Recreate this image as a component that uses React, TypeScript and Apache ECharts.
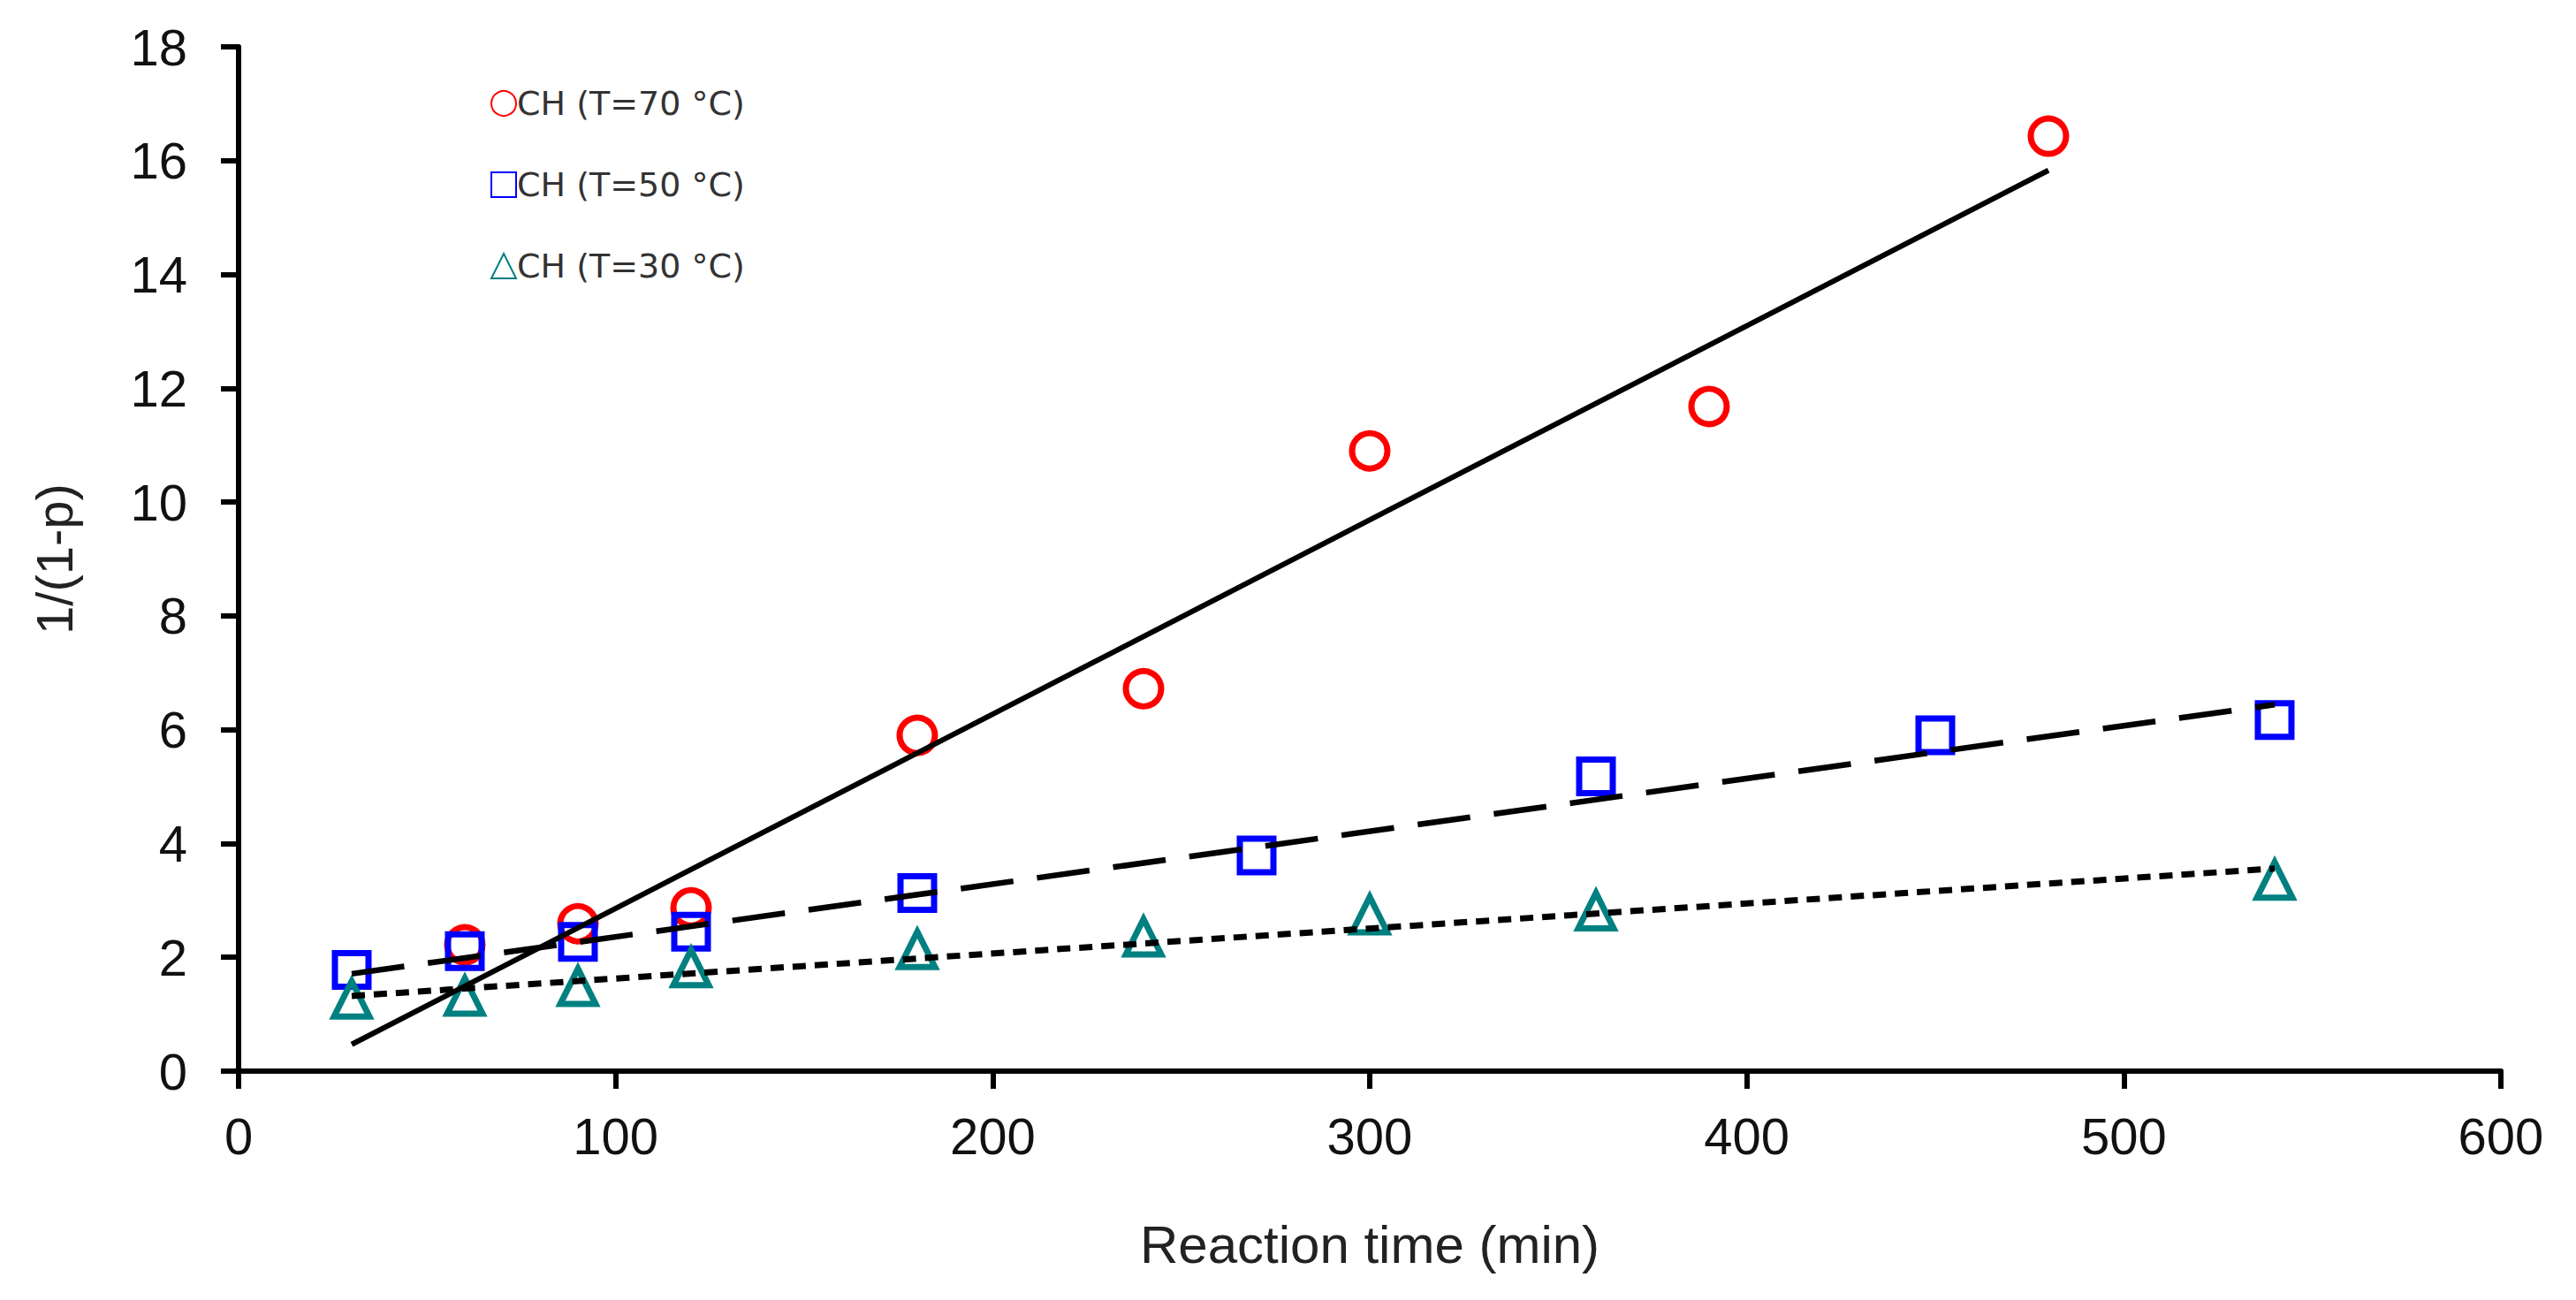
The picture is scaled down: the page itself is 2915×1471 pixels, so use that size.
import React, { useEffect, useRef } from "react";
import * as echarts from "echarts";

const seriesNames = ["CH (T=70 °C)", "CH (T=50 °C)", "CH (T=30 °C)"];
const t70: number[][] = [[60, 2.22], [90, 2.59], [120, 2.87], [180, 5.9], [240, 6.72], [300, 10.9], [390, 11.68], [480, 16.43]];
const t50: number[][] = [[30, 1.78], [60, 2.11], [90, 2.27], [120, 2.45], [180, 3.13], [270, 3.79], [360, 5.18], [450, 5.9], [540, 6.17]];
const t30: number[][] = [[30, 1.27], [60, 1.32], [90, 1.49], [120, 1.82], [180, 2.14], [240, 2.36], [300, 2.75], [360, 2.82], [540, 3.36]];
const fit70: number[][] = [[30, 0.47], [480, 15.83]];
const fit50: number[][] = [[30, 1.71], [540, 6.44]];
const fit30: number[][] = [[30, 1.32], [540, 3.56]];
const xTicks = { min: 0, max: 600, interval: 100 };
const yTicks = { min: 0, max: 18, interval: 2 };
const colors = ["#ff0000", "#0000ff", "#008080"];

export default function App() {
  const ref = useRef<HTMLDivElement>(null);
  useEffect(() => {
    const chart = echarts.init(ref.current!, null, { renderer: "svg" });
    const font = "Liberation Sans, Arial, sans-serif";
    const axisCommon = {
      axisLine: { show: true, onZero: false, lineStyle: { color: "#000", width: 6 } },
      axisTick: { show: true, inside: false, length: 20, lineStyle: { color: "#000", width: 6 } },
      splitLine: { show: false },
      nameTextStyle: { fontFamily: font, fontSize: 58, color: "#222" },
    };
    const marker = (c: string, w: number) => ({
      color: "rgba(255,255,255,0)", borderColor: c, borderWidth: w, opacity: 1,
    });
    chart.setOption({
      animation: false,
      backgroundColor: "#fff",
      grid: { left: 270, right: 85, top: 53, bottom: 259 },
      legend: {
        orient: "vertical",
        left: 550,
        top: 93,
        itemWidth: 28,
        itemHeight: 28,
        itemGap: 54,
        data: seriesNames,
        textStyle: { fontFamily: "DejaVu Sans, sans-serif", fontSize: 38, color: "#333", padding: [0, 0, 0, -4] },
      },
      xAxis: {
        type: "value",
        ...xTicks,
        ...axisCommon,
        name: "Reaction time (min)",
        nameLocation: "middle",
        nameGap: 166,
        nameTextStyle: { fontFamily: font, fontSize: 60, color: "#222" },
        axisLabel: { fontFamily: font, fontSize: 58, color: "#111", margin: 44 },
      },
      yAxis: {
        type: "value",
        ...yTicks,
        ...axisCommon,
        name: "1/(1-p)",
        nameLocation: "middle",
        nameGap: 180,
        axisLabel: { fontFamily: font, fontSize: 58, color: "#111", margin: 58 },
      },
      series: [
        {
          name: seriesNames[0], type: "scatter", data: t70, symbol: "circle", symbolSize: 40, z: 2,
          itemStyle: marker(colors[0], 7),
        },
        {
          name: seriesNames[1], type: "scatter", data: t50, symbol: "rect", symbolSize: 38, z: 3,
          itemStyle: marker(colors[1], 7),
        },
        {
          name: seriesNames[2], type: "scatter", data: t30, symbol: "triangle", symbolSize: 40, z: 4,
          itemStyle: marker(colors[2], 7),
        },
        {
          type: "line", data: fit70, symbol: "none", z: 5, silent: true,
          lineStyle: { color: "#000", width: 6, type: "solid" },
        },
        {
          type: "line", data: fit50, symbol: "none", z: 5, silent: true,
          lineStyle: { color: "#000", width: 6.5, type: [60, 27] },
        },
        {
          type: "line", data: fit30, symbol: "none", z: 5, silent: true,
          lineStyle: { color: "#000", width: 7, type: [15, 10] },
        },
      ],
    });
    return () => chart.dispose();
  }, []);
  return (
    <div
      ref={ref}
      style={{ position: "fixed", left: 0, top: 0, width: 2915, height: 1471, background: "#fff" }}
    />
  );
}
